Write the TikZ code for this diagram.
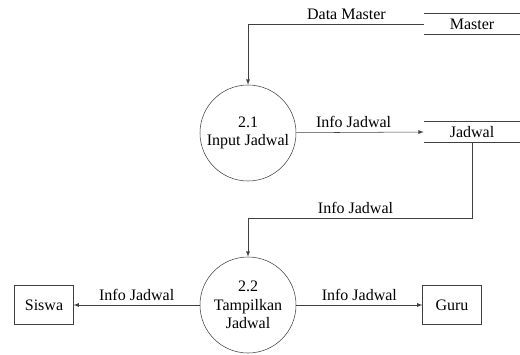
\documentclass[tikz,border=0pt]{standalone}
\usepackage{fontspec}
\setmainfont{Liberation Serif}
\usetikzlibrary{shapes, arrows}

\begin{document}
\begin{tikzpicture}[x=0.75pt, y=-0.75pt, font=\fontsize{12}{14}\selectfont, >=latex,
        proses/.style={draw=black!75, circle, minimum size=72pt, inner sep=0pt, align=center},
        entitas/.style={draw=black!75, rectangle, minimum width=44pt, minimum height=29pt},
        simpan/.style={minimum width=72pt, minimum height=15pt, inner sep=0pt},
        alir/.style={draw=black!75, ->}]
        \useasboundingbox (0,0) rectangle (520,354);

        \node[simpan] (master) at (472,24) {Master};
        \draw[black!75] (master.north west) -- (master.north east); \draw[black!75] (master.south west) -- (master.south east);
        \node[simpan] (jadwal) at (472,132) {Jadwal};
        \draw[black!75] (jadwal.north west) -- (jadwal.north east); \draw[black!75] (jadwal.south west) -- (jadwal.south east);

        \node[proses] (p21) at (248,133) {2.1\\Input Jadwal};
        \node[proses] (p22) at (248,305) {2.2\\Tampilkan\\Jadwal};
        \node[entitas] (siswa) at (44,305) {Siswa};
        \node[entitas] (guru) at (452,305) {Guru};

        \coordinate (belok) at (248,218);

        \draw[alir] (master.west) -| node[pos=0.22, above]{Data Master} (p21.north);
        \draw[alir] (p21) -- node[pos=0.45, above]{Info Jadwal} (jadwal.west);
        \draw[alir] (jadwal.south) |- node[pos=0.76, above]{Info Jadwal} (belok) -- (p22.north);
        \draw[alir] (p22) -- node[above]{Info Jadwal} (siswa);
        \draw[alir] (p22) -- node[above]{Info Jadwal} (guru);

    \end{tikzpicture}
\end{document}
